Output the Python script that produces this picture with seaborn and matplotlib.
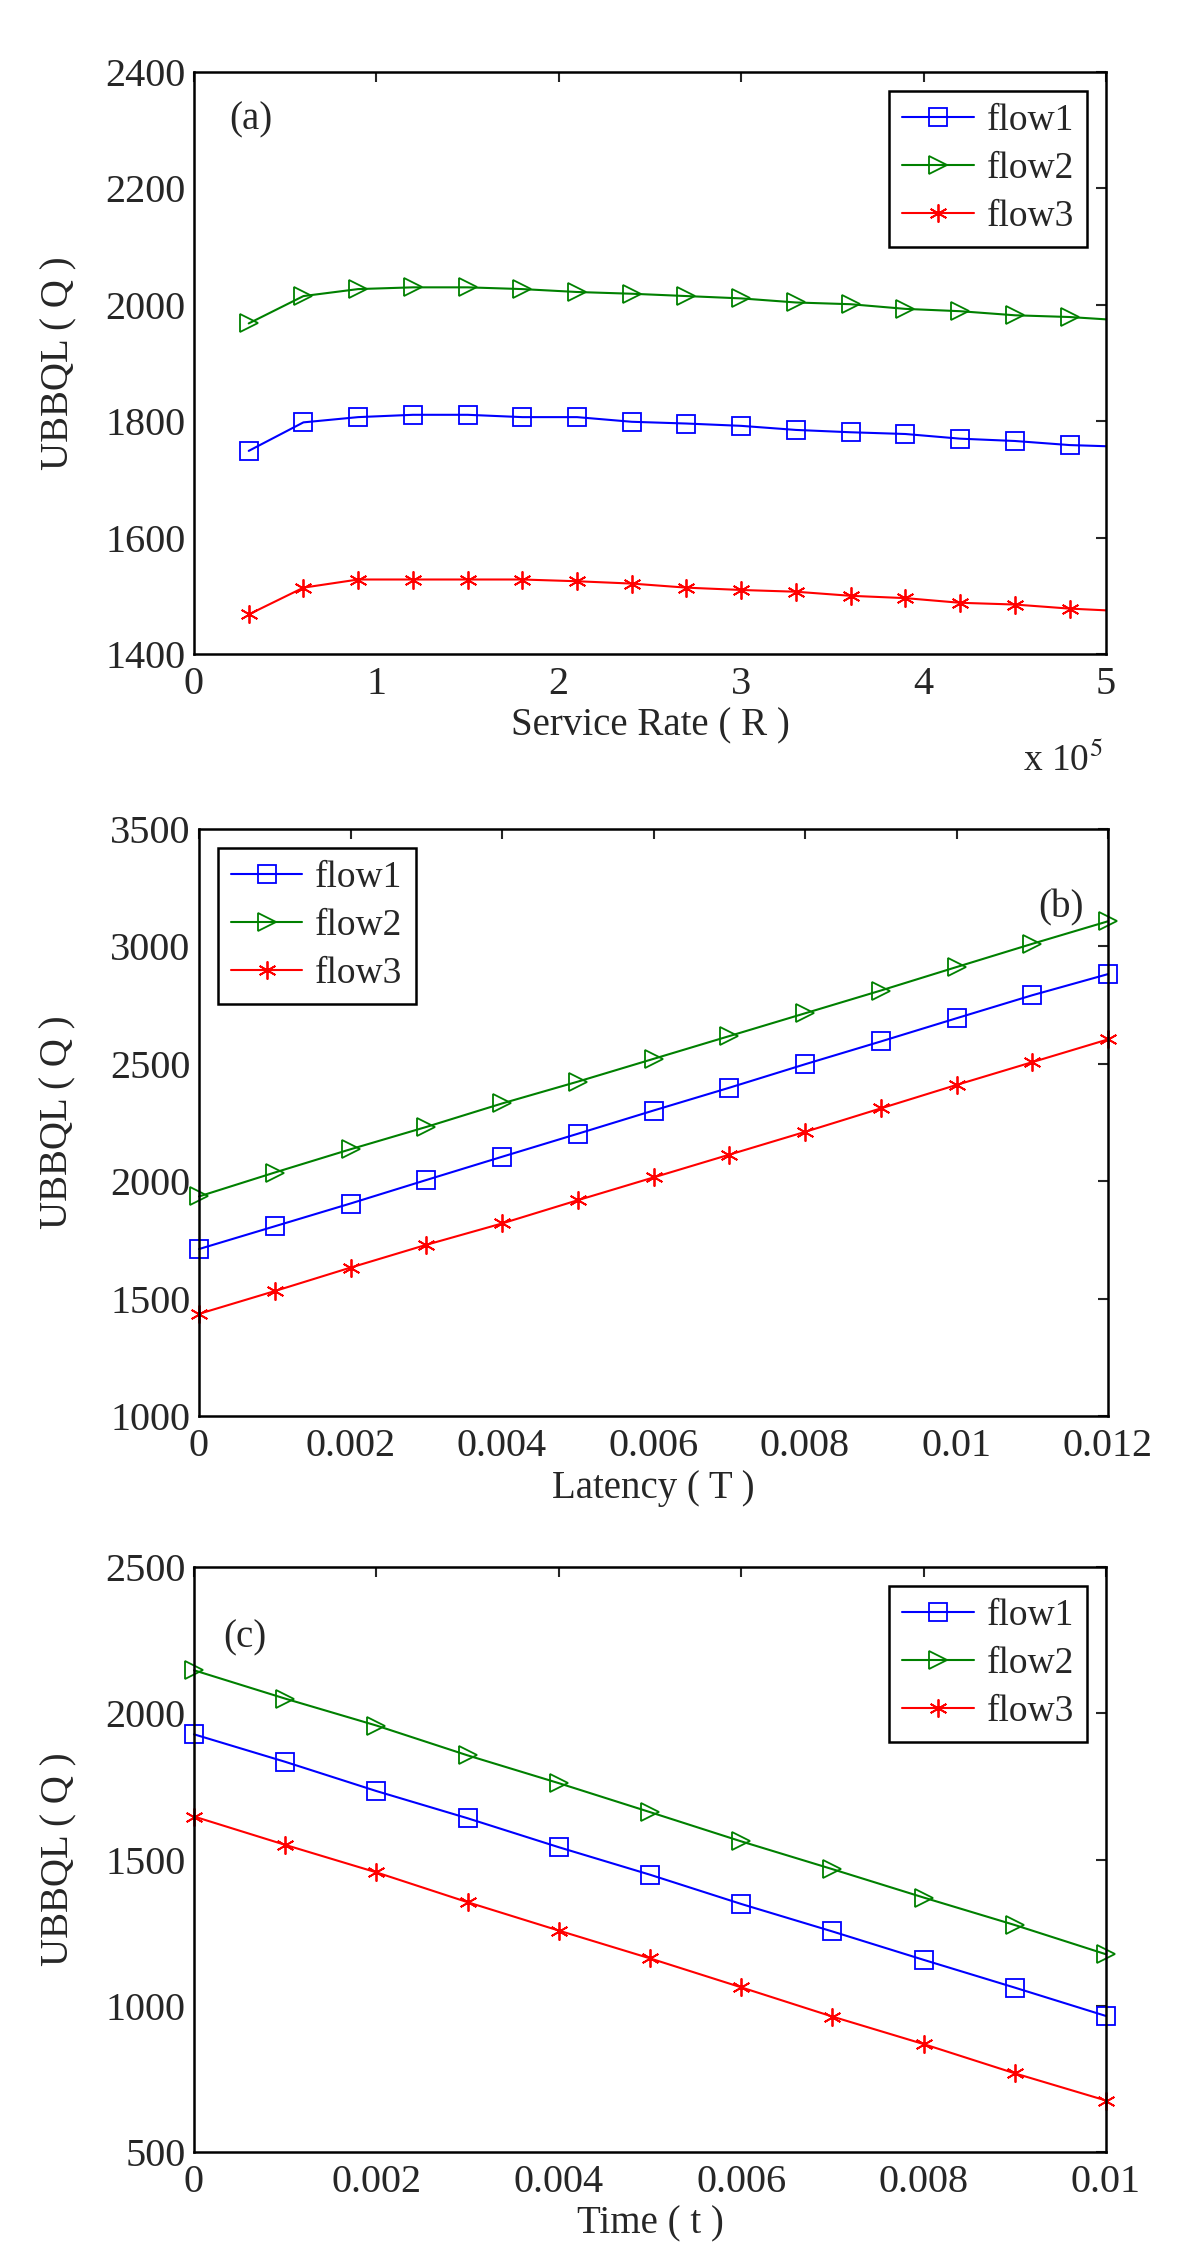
import numpy as np
import matplotlib.pyplot as plt
import pandas as pd
import seaborn as sns
from matplotlib.ticker import FuncFormatter, MultipleLocator

# panel (a): service rate sweep (last point sits on the right edge, drawn without marker)
service_rate = [30000, 60000, 90000, 120000, 150000, 180000, 210000, 240000, 270000,
                300000, 330000, 360000, 390000, 420000, 450000, 480000, 500000]
a_flow1 = [1749, 1798, 1807, 1811, 1811, 1807, 1807, 1799, 1796, 1792, 1785, 1781, 1778, 1770, 1766, 1759, 1757]
a_flow2 = [1968, 2015, 2027, 2030, 2030, 2027, 2022, 2019, 2015, 2011, 2004, 2001, 1993, 1989, 1982, 1979, 1975]
a_flow3 = [1468, 1514, 1528, 1528, 1528, 1528, 1525, 1521, 1514, 1510, 1507, 1500, 1496, 1488, 1485, 1478, 1475]

# panel (b): latency sweep
latency = [0, 0.001, 0.002, 0.003, 0.004, 0.005, 0.006, 0.007, 0.008, 0.009, 0.010, 0.011, 0.012]
b_flow1 = [1711, 1808, 1905, 2005, 2104, 2202, 2301, 2398, 2498, 2595, 2694, 2792, 2882]
b_flow2 = [1935, 2037, 2136, 2231, 2331, 2424, 2521, 2618, 2715, 2812, 2912, 3011, 3107]
b_flow3 = [1435, 1532, 1632, 1729, 1820, 1919, 2016, 2113, 2210, 2310, 2410, 2507, 2604]

# panel (c): time sweep
time_t = [0, 0.001, 0.002, 0.003, 0.004, 0.005, 0.006, 0.007, 0.008, 0.009, 0.010]
c_flow1 = [1928, 1834, 1734, 1641, 1542, 1448, 1348, 1254, 1157, 1062, 965]
c_flow2 = [2147, 2050, 1958, 1856, 1761, 1662, 1562, 1467, 1370, 1276, 1176]
c_flow3 = [1647, 1550, 1456, 1354, 1257, 1162, 1063, 963, 869, 769, 676]

names = ["flow1", "flow2", "flow3"]
colors = {"flow1": "#0000ff", "flow2": "#008000", "flow3": "#ff0000"}
marks = {"flow1": "s", "flow2": ">", "flow3": (6, 2, 0)}

sns.set_style("white")
plt.rcParams["font.family"] = ["Liberation Serif", "DejaVu Serif"]
plt.rcParams["mathtext.fontset"] = "stix"

W, H = 1200.0, 2259.0
def box(l, r, t, b):
    return [l / W, 1 - b / H, (r - l) / W, (b - t) / H]

fig = plt.figure(figsize=(12, 22.59), dpi=100)
ax_a = fig.add_axes(box(194, 1106, 72, 654))
ax_b = fig.add_axes(box(199, 1108, 829, 1416))
ax_c = fig.add_axes(box(194, 1106, 1567, 2152))

panels = [
    (ax_a, service_rate, [a_flow1, a_flow2, a_flow3], "Service Rate ( R )", (0, 500000), (1400, 2400), 200, "upper right"),
    (ax_b, latency, [b_flow1, b_flow2, b_flow3], "Latency ( T )", (0, 0.012), (1000, 3500), 500, "upper left"),
    (ax_c, time_t, [c_flow1, c_flow2, c_flow3], "Time ( t )", (0, 0.01), (500, 2500), 500, "upper right"),
]

for ax, xs, series, xlab, xl, yl, ystep, loc in panels:
    every = list(range(16)) if ax is ax_a else None
    for name, ys in zip(names, series):
        df = pd.DataFrame({"x": xs, "y": ys})
        sns.lineplot(data=df, x="x", y="y", ax=ax, color=colors[name], marker=marks[name],
                     markersize=13, mfc="none", mec=colors[name], mew=1.3, lw=1.5,
                     markevery=every, clip_on=False, label=name)
    ax.set_xlim(*xl)
    ax.set_ylim(*yl)
    ax.yaxis.set_major_locator(MultipleLocator(ystep))
    ax.set_xlabel(xlab, fontsize=28, labelpad=3)
    ax.set_ylabel("UBBQL ( Q )", fontsize=28)
    ax.tick_params(direction="in", length=7, width=1.5, top=True, right=True, labelsize=29)
    ax.tick_params(axis="x", pad=9)
    ax.tick_params(axis="y", pad=6)
    for s in ax.spines.values():
        s.set_linewidth(1.8)
        s.set_color("black")
    leg = ax.legend(loc=loc, fontsize=27, frameon=True, fancybox=False, framealpha=1,
                    edgecolor="black", handlelength=1.9, handletextpad=0.35,
                    borderaxespad=0.5, labelspacing=0.35, borderpad=0.35)
    leg.get_frame().set_linewidth(1.8)

ax_a.yaxis.set_label_coords(-0.128, 0.5)
ax_b.yaxis.set_label_coords(-0.135, 0.5)
ax_c.yaxis.set_label_coords(-0.128, 0.5)

ax_a.xaxis.set_major_locator(MultipleLocator(100000))
ax_a.xaxis.set_major_formatter(FuncFormatter(lambda v, p: "%g" % (v / 100000)))
ax_a.text(0.996, -0.182, r"x 10$^5$", transform=ax_a.transAxes, ha="right", va="center", fontsize=27)
ax_b.xaxis.set_major_locator(MultipleLocator(0.002))
ax_b.xaxis.set_major_formatter(FuncFormatter(lambda v, p: "%g" % round(v, 6)))
ax_c.xaxis.set_major_locator(MultipleLocator(0.002))
ax_c.xaxis.set_major_formatter(FuncFormatter(lambda v, p: "%g" % round(v, 6)))

ax_a.text(0.062, 0.918, "(a)", transform=ax_a.transAxes, fontsize=28, va="center", ha="center")
ax_b.text(0.948, 0.865, "(b)", transform=ax_b.transAxes, fontsize=28, va="center", ha="center")
ax_c.text(0.056, 0.879, "(c)", transform=ax_c.transAxes, fontsize=28, va="center", ha="center")

fig.savefig("out.png", dpi=100)
